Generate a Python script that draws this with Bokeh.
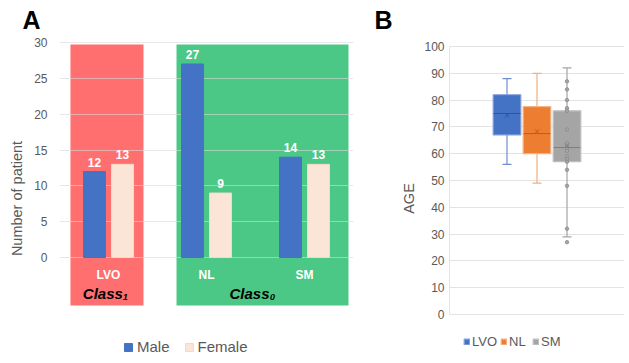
from bokeh.plotting import figure
from bokeh.models import (FactorRange, Range1d, Legend, LegendItem,
                          FixedTicker, ColumnDataSource)
from bokeh.transform import dodge
from bokeh.layouts import row
from bokeh.core.properties import value
from bokeh.embed import file_html
from bokeh.resources import INLINE

# ---------------- data ----------------
categories = ["LVO", "NL", "SM"]
male = [12, 27, 14]
female = [13, 9, 13]
count_ticks = [0, 5, 10, 15, 20, 25, 30]

class_names = ["Class\u2081", "Class\u2080"]
class_members = [["LVO"], ["NL", "SM"]]

age_groups = ["LVO", "NL", "SM"]
age_lower = [56, 49, 29]
age_q1 = [67, 60, 57]
age_median = [75, 67.5, 62.3]
age_q3 = [82, 77.6, 76]
age_upper = [88, 90, 92]
age_mean = [74.3, 68.3, 63.0]
sm_points = [87, 84, 80, 77, 76, 69, 64, 63, 62, 61, 59, 58, 57, 54, 48, 32, 27]
age_ticks = list(range(0, 101, 10))

FONT = "Liberation Sans"
GRAY = "#595959"


def style_title(p, text, offset):
    p.title.text = text
    p.title.align = "left"
    p.title.vertical_align = "top"
    p.title.offset = offset
    p.title.standoff = 11
    p.title.text_font = FONT
    p.title.text_font_size = "25px"
    p.title.text_font_style = "bold"
    p.title.text_color = "black"


def style_yaxis(axis, ticks, label, standoff, label_standoff):
    axis.ticker = FixedTicker(ticks=ticks)
    axis.major_tick_line_color = None
    axis.minor_tick_line_color = None
    axis.major_tick_out = 0
    axis.major_tick_in = 0
    axis.minor_tick_out = 0
    axis.major_label_standoff = standoff
    axis.major_label_text_font = FONT
    axis.major_label_text_font_size = "12px"
    axis.major_label_text_color = GRAY
    axis.axis_label = label
    axis.axis_label_text_font = FONT
    axis.axis_label_text_font_size = "14.5px"
    axis.axis_label_text_font_style = "normal"
    axis.axis_label_text_color = GRAY
    axis.axis_label_standoff = label_standoff


# ---------------- panel A ----------------
pA = figure(x_range=FactorRange(*categories, range_padding=0),
            y_range=Range1d(-13.67, 30.14),
            frame_width=294, frame_height=314, output_backend="svg", toolbar_location=None,
            x_axis_location=None,
            min_border_left=59, min_border_right=13, min_border_top=41, min_border_bottom=0)
pA.outline_line_color = None
pA.xgrid.visible = False
pA.ygrid.ticker = FixedTicker(ticks=count_ticks)
pA.ygrid.grid_line_color = "#D9D9D9"
pA.ygrid.grid_line_alpha = 0.6
style_yaxis(pA.yaxis[0], count_ticks, "Number of patient", 12, 6)
pA.yaxis[0].axis_line_color = None
style_title(pA, "A", -37)

# class background regions
idx = {c: i for i, c in enumerate(categories)}
pad_left = [0.112, 0.194]
pad_right = [0.143, 0.051]
bg_colors = ["#FF6F6F", "#4CC886"]
bg_left = [idx[m[0]] + pl for m, pl in zip(class_members, pad_left)]
bg_right = [idx[m[-1]] + 1 - pr for m, pr in zip(class_members, pad_right)]
pA.quad(left=bg_left, right=bg_right, bottom=-6.70, top=29.72,
        fill_color=bg_colors, line_color=None, level="image")

srcA = ColumnDataSource(dict(cat=categories, male=male, female=female,
                             male_txt=[str(v) for v in male],
                             female_txt=[str(v) for v in female]))
rm = pA.vbar(x=dodge("cat", -0.143, range=pA.x_range), top="male", width=0.224,
             source=srcA, fill_color="#4472C4", line_color="#4472C4")
rf = pA.vbar(x=dodge("cat", 0.143, range=pA.x_range), top="female", width=0.224,
             source=srcA, fill_color="#FBE5D6", line_color="#F5D9C6")
for col, off in (("male", -0.143), ("female", 0.143)):
    pA.text(x=dodge("cat", off, range=pA.x_range), y=col, text=col + "_txt", source=srcA,
            text_color="white", text_font=value(FONT), text_font_style="bold",
            text_font_size="12px", text_align="center", text_baseline="bottom", y_offset=-5)
# category labels (inside the coloured regions)
pA.text(x="cat", y=-2.37, text="cat", source=srcA, text_color="white",
        text_font=value(FONT), text_font_style="bold", text_font_size="12px",
        text_align="center", text_baseline="middle")
class_x = [sum(idx[m] + 0.5 for m in mem) / len(mem) for mem in class_members]
pA.text(x=class_x, y=-5.0, text=class_names, text_color="black",
        text_font=value(FONT), text_font_style="bold italic", text_font_size="15px",
        text_align="center", text_baseline="middle", x_offset=-3)

legA = Legend(items=[LegendItem(label="Male", renderers=[rm]),
                     LegendItem(label="Female", renderers=[rf])],
              orientation="horizontal", location=(64, 0),
              glyph_width=10, glyph_height=10, label_standoff=4, spacing=14,
              padding=0, margin=0, border_line_color=None, background_fill_alpha=0,
              label_text_font=FONT, label_text_font_size="15px",
              label_text_color=GRAY, label_height=16)
pA.add_layout(legA, "center")

# ---------------- panel B ----------------
pB = figure(x_range=FactorRange(*age_groups, range_padding=0.944),
            y_range=Range1d(-15.3, 101.87),
            frame_width=175, frame_height=314, output_backend="svg", toolbar_location=None,
            x_axis_location=None,
            min_border_left=83, min_border_right=0, min_border_top=41, min_border_bottom=0)
pB.outline_line_color = None
pB.xgrid.visible = False
pB.ygrid.ticker = FixedTicker(ticks=age_ticks)
pB.ygrid.grid_line_color = "#E3E3E3"
style_yaxis(pB.yaxis[0], age_ticks, "AGE", 5, 4)
pB.yaxis[0].bounds = (0, 100)
pB.yaxis[0].axis_line_color = "#E3E3E3"
style_title(pB, "B", -75)

box_fill = ["#4472C4", "#ED7D31", "#A5A5A5"]
box_edge = ["#7F9FDA", "#F4B183", "#BFBFBF"]
box_dark = ["#2F5597", "#C55A11", "#7F7F7F"]
whisk = ["#6E90D0", "#F4AE80", "#A5A5A5"]
srcB = ColumnDataSource(dict(g=age_groups, lower=age_lower, q1=age_q1, med=age_median,
                             q3=age_q3, upper=age_upper, mean=age_mean,
                             fill=box_fill, edge=box_edge, dark=box_dark, wc=whisk))
pB.segment(x0="g", y0="lower", x1="g", y1="q1", source=srcB, line_color="wc", line_width=1.2)
pB.segment(x0="g", y0="q3", x1="g", y1="upper", source=srcB, line_color="wc", line_width=1.2)
pB.scatter(x="g", y="lower", source=srcB, marker="dash", size=9, line_color="wc", line_width=1.2)
pB.scatter(x="g", y="upper", source=srcB, marker="dash", size=9, line_color="wc", line_width=1.2)
rb = pB.vbar(x="g", bottom="q1", top="q3", width=0.92, source=srcB,
             fill_color="fill", line_color="edge", line_width=1.2)
pB.scatter(x=["SM"] * len(sm_points), y=sm_points, marker="circle", size=3.5,
           fill_color="#A5A5A5", line_color="#8C8C8C", line_width=0.8)
pB.scatter(x="g", y="med", source=srcB, marker="dash", size=27, line_color="dark", line_width=1)
pB.scatter(x="g", y="mean", source=srcB, marker="x", size=6, line_color="dark", line_width=1)

legB = Legend(items=[LegendItem(label=g, renderers=[rb], index=i) for i, g in enumerate(age_groups)],
              orientation="horizontal", location=(14, 5),
              glyph_width=7, glyph_height=7, label_standoff=2, spacing=3,
              padding=0, margin=0, border_line_color=None, background_fill_alpha=0,
              label_text_font=FONT, label_text_font_size="13px",
              label_text_color=GRAY, label_height=17)
pB.add_layout(legB, "center")

layout = row(pA, pB, spacing=0)
open("out.html", "w").write(file_html(layout, INLINE))
